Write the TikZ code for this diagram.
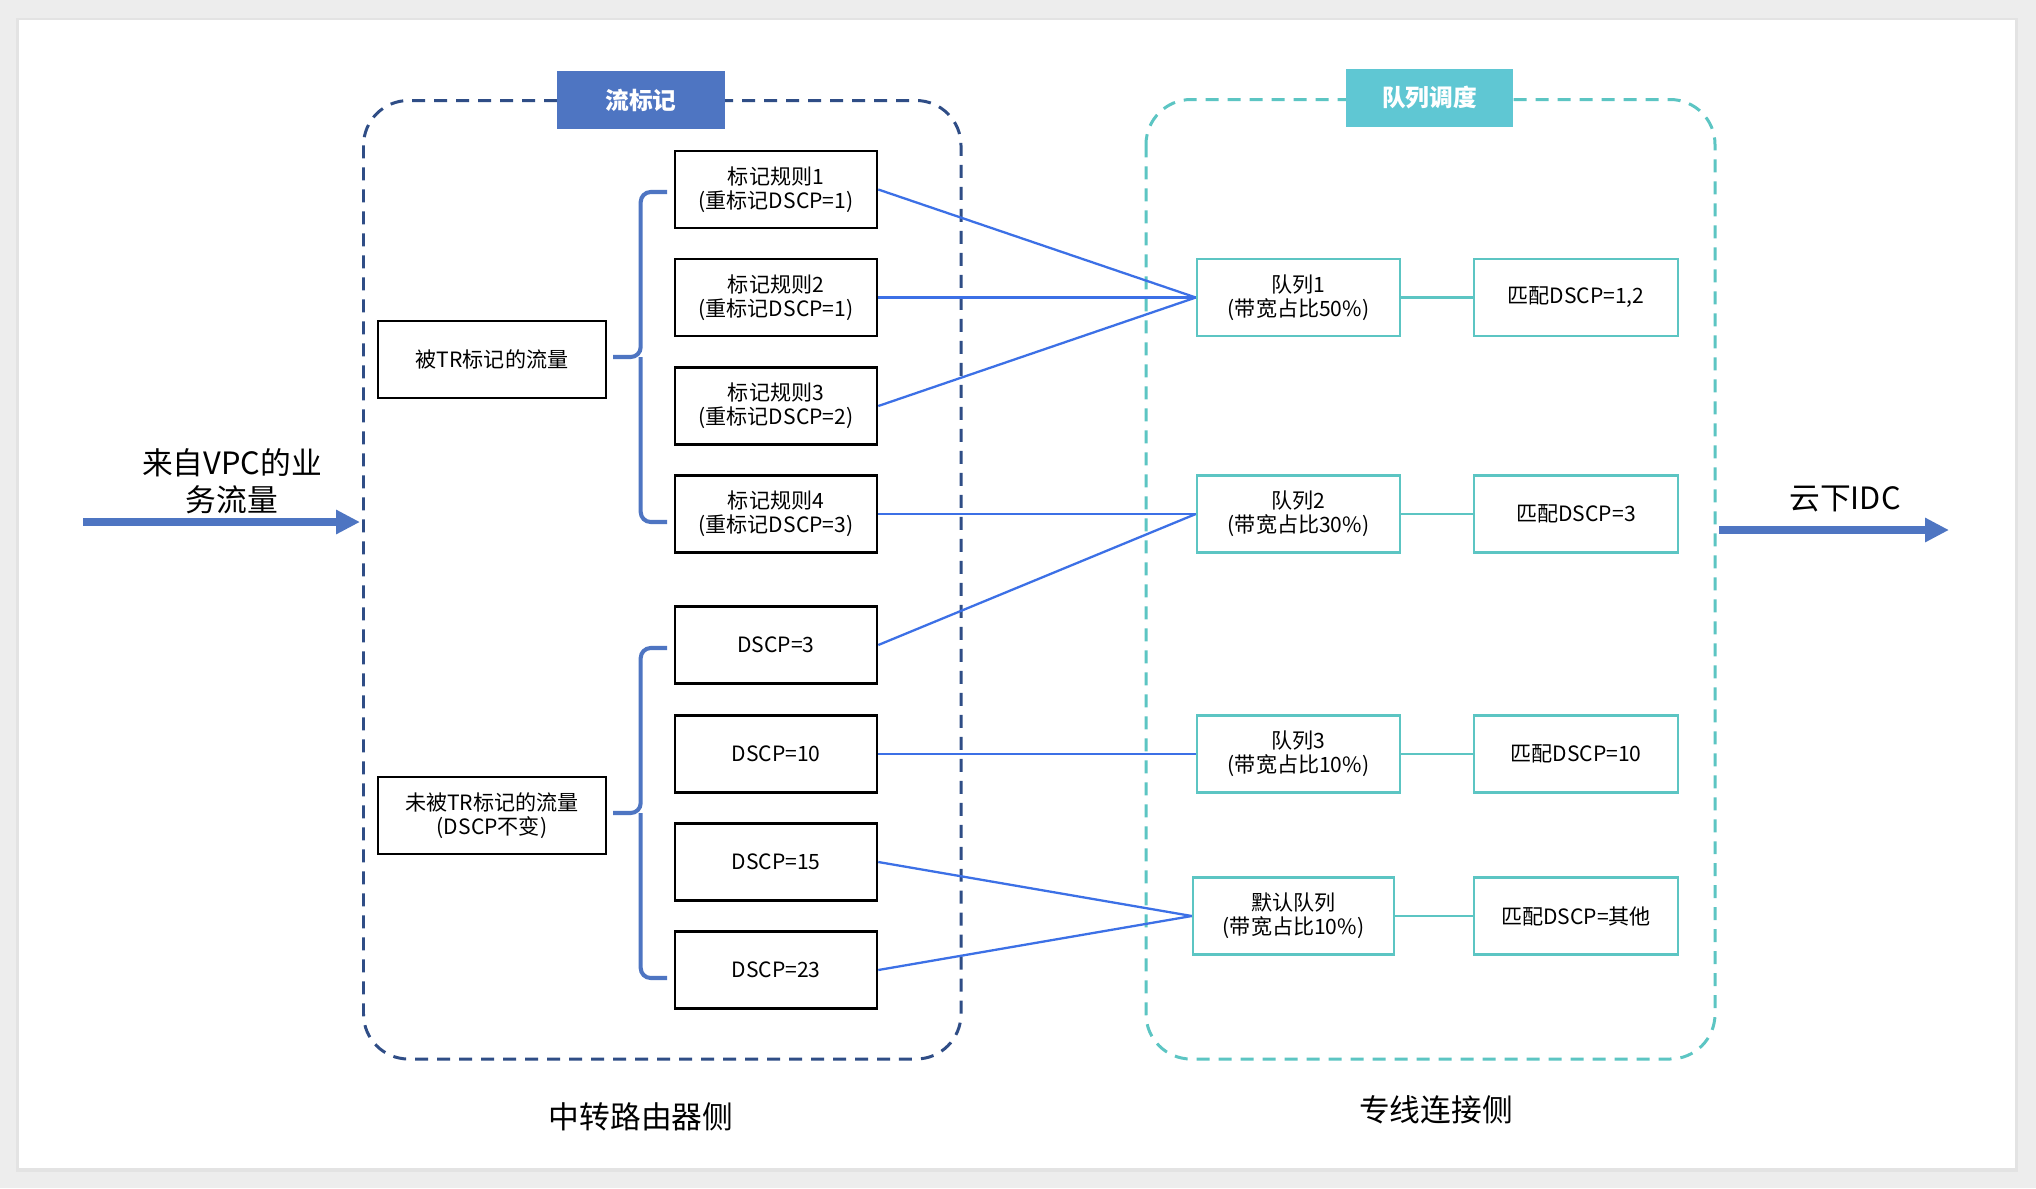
\documentclass[tikz,border=0pt]{standalone}
\usepackage{fontspec}
\setmainfont{Noto Sans CJK SC}
\usetikzlibrary{arrows.meta}

\definecolor{markblue}{HTML}{4E75C2}
\definecolor{linkblue}{HTML}{3C70E6}
\definecolor{routernavy}{HTML}{2F4D86}
\definecolor{queueteal}{HTML}{5CC5C3}
\definecolor{tagteal}{HTML}{5FC7D3}
\definecolor{pagegray}{HTML}{EDEDED}

\begin{document}
\begin{tikzpicture}[x=0.02cm,y=-0.02cm,
  rulebox/.style={draw=black,line width=1.5pt,minimum width=4.04cm,minimum height=1.54cm,inner sep=0pt,align=center,font=\fontsize{12}{13.5}\selectfont},
  queuebox/.style={draw=queueteal,line width=1.4pt,minimum width=4.06cm,minimum height=1.54cm,inner sep=0pt,align=center,font=\fontsize{12}{13.5}\selectfont},
  tagbox/.style={text=white,minimum width=3.36cm,minimum height=1.16cm,inner sep=0pt,font=\fontsize{13.5}{15}\selectfont\bfseries},
  flow/.style={linkblue,line width=1.3pt},
  pair/.style={queueteal,line width=1.4pt},
  bigarrow/.style={markblue,line width=4pt,-{Triangle[length=0.48cm,width=0.46cm]}},
  bracket/.style={markblue,line width=2.3pt,rounded corners=0.2cm},
  sidelabel/.style={align=center,font=\fontsize{17.5}{21}\selectfont}]

\useasboundingbox (0,0) rectangle (2036,1188);
\fill[pagegray] (0,0) rectangle (2036,1188);
\fill[gray!22] (16,18) rectangle (2018,1172);
\fill[white] (19,20) rectangle (2015,1168);

\coordinate (router-box-nw) at (363.5,100.5);
\coordinate (router-box-se) at (961,1059);
\coordinate (line-box-nw) at (1146,99.5);
\coordinate (line-box-se) at (1715,1059);

\coordinate (flow-mark) at (641,100);
\coordinate (queue-schedule) at (1429.5,97.5);

\coordinate (marked) at (492,359.5);
\coordinate (unmarked) at (492,815.5);

\coordinate (rule-1) at (776,189.5);
\coordinate (rule-2) at (776,297.5);
\coordinate (rule-3) at (776,406);
\coordinate (rule-4) at (776,514);
\coordinate (dscp-3) at (776,645);
\coordinate (dscp-10) at (776,754);
\coordinate (dscp-15) at (776,862);
\coordinate (dscp-23) at (776,970);

\coordinate (queue-1) at (1298.5,297.5);
\coordinate (queue-2) at (1298.5,514);
\coordinate (queue-3) at (1298.5,754);
\coordinate (queue-default) at (1293.5,916);

\coordinate (match-1) at (1576,297.5);
\coordinate (match-2) at (1576,514);
\coordinate (match-3) at (1576,754);
\coordinate (match-default) at (1576,916);

\coordinate (vpc-in-start) at (83,522);
\coordinate (vpc-in-end) at (360,522);
\coordinate (idc-out-start) at (1719,530);
\coordinate (idc-out-end) at (1949,530);

\coordinate (marked-bracket-top) at (667,192);
\coordinate (marked-bracket-mid) at (613,357);
\coordinate (marked-bracket-bottom) at (667,522);
\coordinate (unmarked-bracket-top) at (667,648);
\coordinate (unmarked-bracket-mid) at (613,813);
\coordinate (unmarked-bracket-bottom) at (667,978);

\draw[routernavy,line width=1.7pt,dash pattern=on 0.26cm off 0.18cm,rounded corners=0.9cm] (router-box-nw) rectangle (router-box-se);
\draw[queueteal,line width=1.7pt,dash pattern=on 0.26cm off 0.18cm,rounded corners=0.9cm] (line-box-nw) rectangle (line-box-se);

\node[tagbox,fill=markblue] (flow-mark-tag) at (flow-mark) {流标记};
\node[tagbox,fill=tagteal] (queue-schedule-tag) at (queue-schedule) {队列调度};

\node[rulebox,minimum width=4.56cm] (marked-box) at (marked) {被TR标记的流量};
\node[rulebox,minimum width=4.56cm] (unmarked-box) at (unmarked) {未被TR标记的流量\\(DSCP不变)};

\node[rulebox] (rule-1-box) at (rule-1) {标记规则1\\(重标记DSCP=1)};
\node[rulebox] (rule-2-box) at (rule-2) {标记规则2\\(重标记DSCP=1)};
\node[rulebox] (rule-3-box) at (rule-3) {标记规则3\\(重标记DSCP=2)};
\node[rulebox] (rule-4-box) at (rule-4) {标记规则4\\(重标记DSCP=3)};
\node[rulebox] (dscp-3-box) at (dscp-3) {DSCP=3};
\node[rulebox] (dscp-10-box) at (dscp-10) {DSCP=10};
\node[rulebox] (dscp-15-box) at (dscp-15) {DSCP=15};
\node[rulebox] (dscp-23-box) at (dscp-23) {DSCP=23};

\node[queuebox] (queue-1-box) at (queue-1) {队列1\\(带宽占比50\%)};
\node[queuebox] (queue-2-box) at (queue-2) {队列2\\(带宽占比30\%)};
\node[queuebox] (queue-3-box) at (queue-3) {队列3\\(带宽占比10\%)};
\node[queuebox,minimum width=4.02cm] (queue-default-box) at (queue-default) {默认队列\\(带宽占比10\%)};

\node[queuebox,minimum width=4.08cm] (match-1-box) at (match-1) {匹配DSCP=1,2};
\node[queuebox,minimum width=4.08cm] (match-2-box) at (match-2) {匹配DSCP=3};
\node[queuebox,minimum width=4.08cm] (match-3-box) at (match-3) {匹配DSCP=10};
\node[queuebox,minimum width=4.08cm] (match-default-box) at (match-default) {匹配DSCP=其他};

\draw[bracket] (marked-bracket-top) -| (640.7,357) -- (marked-bracket-mid);
\draw[bracket] (marked-bracket-bottom) -| (640.7,357);
\draw[bracket] (unmarked-bracket-top) -| (640.7,813) -- (unmarked-bracket-mid);
\draw[bracket] (unmarked-bracket-bottom) -| (640.7,813);

\draw[flow] (rule-1-box.east) -- (queue-1-box.west);
\draw[flow] (rule-2-box.east) -- (queue-1-box.west);
\draw[flow] (rule-3-box.east) -- (queue-1-box.west);
\draw[flow] (rule-4-box.east) -- (queue-2-box.west);
\draw[flow] (dscp-3-box.east) -- (queue-2-box.west);
\draw[flow] (dscp-10-box.east) -- (queue-3-box.west);
\draw[flow] (dscp-15-box.east) -- (queue-default-box.west);
\draw[flow] (dscp-23-box.east) -- (queue-default-box.west);

\draw[pair] (queue-1-box) -- (match-1-box);
\draw[pair] (queue-2-box) -- (match-2-box);
\draw[pair] (queue-3-box) -- (match-3-box);
\draw[pair] (queue-default-box) -- (match-default-box);

\draw[bigarrow] (vpc-in-start) -- (vpc-in-end);
\draw[bigarrow] (idc-out-start) -- (idc-out-end);

\node[sidelabel] (vpc-in-label) at (232,481) {来自VPC的业\\务流量};
\node[sidelabel] (idc-out-label) at (1845,499) {云下IDC};
\node[sidelabel] (router-side-label) at (641,1117) {中转路由器侧};
\node[sidelabel] (line-side-label) at (1436,1110) {专线连接侧};

\end{tikzpicture}
\end{document}
